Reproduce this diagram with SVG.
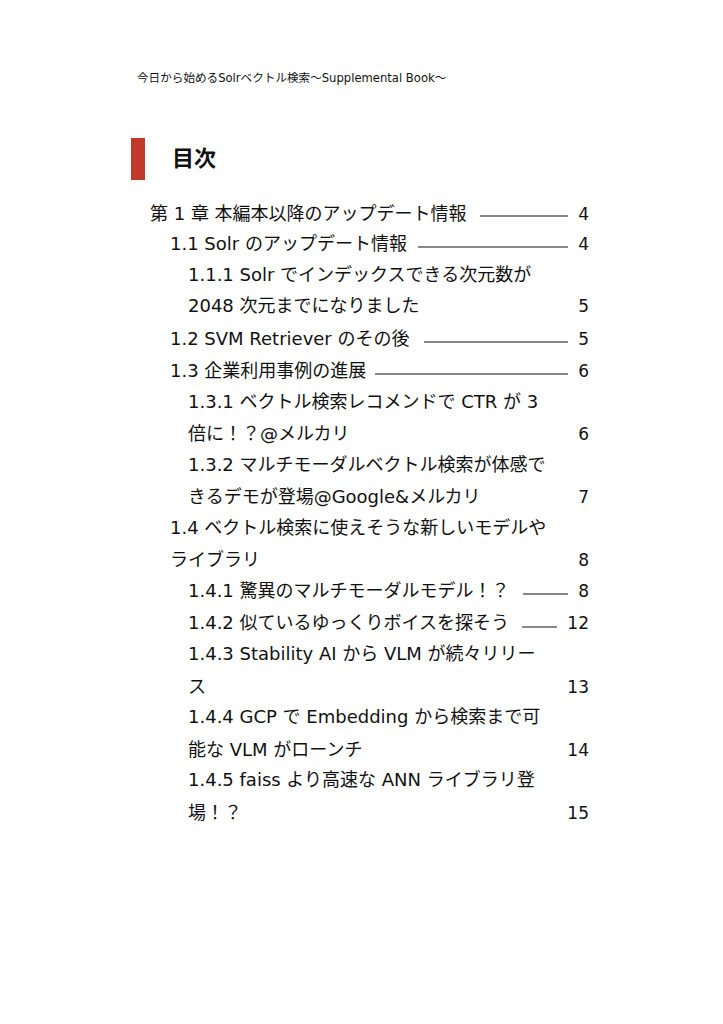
<svg xmlns="http://www.w3.org/2000/svg" width="723" height="1024" viewBox="0 0 723 1024">
<style>
text{font-family:"DejaVu Sans","Noto Sans CJK JP",sans-serif;fill:#111}
.t{font-size:18px}
.n{font-size:17px;text-anchor:end}
.l{stroke:#111;stroke-width:1}
</style>
<rect width="723" height="1024" fill="#fff"/>
<text x="137" y="82" font-size="11.6">今日から始めるSolrベクトル検索〜Supplemental Book〜</text>
<rect x="131" y="138" width="14" height="42" fill="#c0392b"/>
<text x="172" y="166" font-size="22" font-weight="bold">目次</text>
<g>
<text class="t" x="150" y="220">第 1 章 本編本以降のアップデート情報</text><line class="l" x1="480" y1="216" x2="568" y2="216"/><text class="n" x="589" y="220">4</text>
<text class="t" x="170" y="250">1.1 Solr のアップデート情報</text><line class="l" x1="418" y1="247" x2="568" y2="247"/><text class="n" x="589" y="250">4</text>
<text class="t" x="188" y="281">1.1.1 Solr でインデックスできる次元数が</text>
<text class="t" x="188" y="312">2048 次元までになりました</text><text class="n" x="589" y="312">5</text>
<text class="t" x="170" y="345">1.2 SVM Retriever のその後</text><line class="l" x1="424" y1="342" x2="568" y2="342"/><text class="n" x="589" y="345">5</text>
<text class="t" x="170" y="377">1.3 企業利用事例の進展</text><line class="l" x1="375" y1="374" x2="568" y2="374"/><text class="n" x="589" y="377">6</text>
<text class="t" x="188" y="408">1.3.1 ベクトル検索レコメンドで CTR が 3</text>
<text class="t" x="188" y="440">倍に！？@メルカリ</text><text class="n" x="589" y="440">6</text>
<text class="t" x="188" y="471">1.3.2 マルチモーダルベクトル検索が体感で</text>
<text class="t" x="188" y="503">きるデモが登場@Google&amp;メルカリ</text><text class="n" x="589" y="503">7</text>
<text class="t" x="170" y="534">1.4 ベクトル検索に使えそうな新しいモデルや</text>
<text class="t" x="170" y="566">ライブラリ</text><text class="n" x="589" y="566">8</text>
<text class="t" x="188" y="597">1.4.1 驚異のマルチモーダルモデル！？</text><line class="l" x1="523" y1="594" x2="568" y2="594"/><text class="n" x="589" y="597">8</text>
<text class="t" x="188" y="629">1.4.2 似ているゆっくりボイスを探そう</text><line class="l" x1="522" y1="627" x2="557" y2="627"/><text class="n" x="589" y="629">12</text>
<text class="t" x="188" y="660">1.4.3 Stability AI から VLM が続々リリー</text>
<text class="t" x="188" y="693">ス</text><text class="n" x="589" y="693">13</text>
<text class="t" x="188" y="723">1.4.4 GCP で Embedding から検索まで可</text>
<text class="t" x="188" y="756">能な VLM がローンチ</text><text class="n" x="589" y="756">14</text>
<text class="t" x="188" y="786">1.4.5 faiss より高速な ANN ライブラリ登</text>
<text class="t" x="188" y="819">場！？</text><text class="n" x="589" y="819">15</text>
</g>
</svg>
